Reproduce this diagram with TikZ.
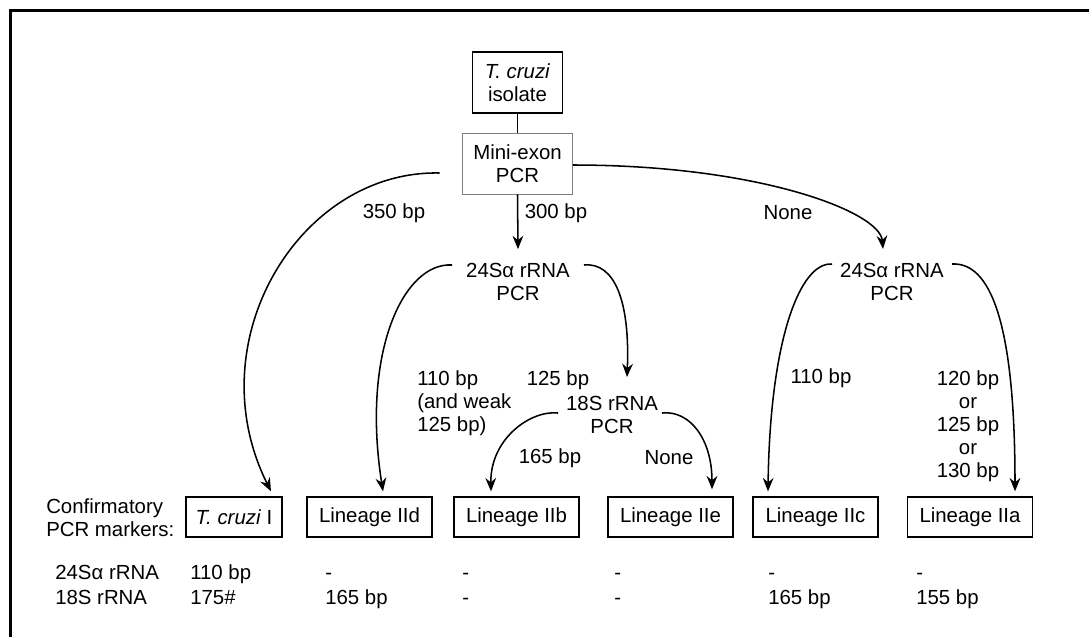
\documentclass[tikz,border=0pt]{standalone}
\usepackage{fontspec}
\setmainfont{Liberation Sans}
\usetikzlibrary{arrows.meta}
\begin{document}
\begin{tikzpicture}[x=0.75pt,y=-0.75pt,
  every node/.style={font=\fontsize{15.3}{17.25}\selectfont, inner sep=0pt, align=center},
  conn/.style={line width=1.15pt, -{Stealth[length=10pt,width=8pt]}},
  bbox/.style={draw, line width=1pt, minimum height=30pt, minimum width=93.75pt},
  val/.style={anchor=base west}]
\useasboundingbox (0,0) rectangle (1089,637);
\draw[line width=1.8pt] (10.5,637) -- (10.5,10.5) -- (1089,10.5);

% top boxes
\node[draw, line width=1.1pt, minimum width=67.5pt, minimum height=45.75pt] (iso) at (517.5,82.5) {\textit{T. cruzi}\\isolate};
\node[draw=gray, line width=0.6pt, minimum width=82.5pt, minimum height=45.75pt] (mini) at (517.5,163.5) {Mini-exon\\PCR};
\draw[line width=1pt] (iso) -- (mini);

% PCR nodes
\node (p24a) at (518,281.5) {24Sα rRNA\\PCR};
\node (p24b) at (892,281.5) {24Sα rRNA\\PCR};
\node (p18) at (612,415) {18S rRNA\\PCR};

% labels
\node (l350) at (394,213) {350 bp};
\node (l300) at (556,213) {300 bp};
\node (lnone1) at (788,213) {None};
\node[anchor=west, align=left] (l110a) at (417,403) {110 bp\\(and weak\\125 bp)};
\node (l125) at (558,380) {125 bp};
\node (l165) at (550,458) {165 bp};
\node (lnone2) at (669,458) {None};
\node (l110b) at (821,378) {110 bp};
\node (lor) at (968,426) {120 bp\\or\\125 bp\\or\\130 bp};

% bottom boxes
\node[anchor=west, align=left] (conf) at (46,518) {Confirmatory\\PCR markers:};
\node[bbox, minimum width=72pt] (tci) at (234,517) {\textit{T. cruzi} I};
\node[bbox] (iid) at (369.5,517) {Lineage IId};
\node[bbox] (iib) at (516.5,517) {Lineage IIb};
\node[bbox] (iie) at (670.5,517) {Lineage IIe};
\node[bbox] (iic) at (815.5,517) {Lineage IIc};
\node[bbox] (iia) at (970,517) {Lineage IIa};

% table rows
\node[val] (r24) at (55,579) {24Sα rRNA};
\node[val] (r18) at (55,604) {18S rRNA};
\node[val] (a1) at (190,579) {110 bp};
\node[val] (a2) at (325,579) {-};
\node[val] (a3) at (462,579) {-};
\node[val] (a4) at (614,579) {-};
\node[val] (a5) at (768,579) {-};
\node[val] (a6) at (916,579) {-};
\node[val] (b1) at (190,604) {175\#};
\node[val] (b2) at (325,604) {165 bp};
\node[val] (b3) at (462,604) {-};
\node[val] (b4) at (614,604) {-};
\node[val] (b5) at (768,604) {165 bp};
\node[val] (b6) at (916,604) {155 bp};

% connectors
\draw[conn] ([shift={(-78,9.5)}]mini.center) .. controls +(-140,-3) and +(-75,-150) .. ([shift={(37,-5)}]tci.north);
\draw[conn] (mini.south) -- ([yshift=10pt]p24a.north);
\draw[conn] ([shift={(0,1.5)}]mini.east) .. controls +(187,0) and +(-3,-37) .. ([shift={(-9,-13.5)}]p24b.north);
\draw[conn] ([shift={(-66,-16.5)}]p24a.center) .. controls +(-48,-3) and +(-22,-140) .. ([shift={(13.5,-5)}]iid.north);
\draw[conn] ([shift={(66,-16.5)}]p24a.center) .. controls +(31,-3) and +(3,-75) .. ([shift={(15,-19)}]p18.north);
\draw[conn] ([shift={(-54,-2)}]p18.center) .. controls +(-28,-3) and +(-1,-52) .. ([shift={(-25.5,-5)}]iib.north);
\draw[conn] ([shift={(50,-2)}]p18.center) .. controls +(28,-3) and +(0,-50) .. ([shift={(41.5,-7)}]iie.north);
\draw[conn] ([shift={(-60,-17.5)}]p24b.center) .. controls +(-32,-2) and +(2,-152) .. ([shift={(-47.5,-5)}]iic.north);
\draw[conn] ([shift={(60,-17.5)}]p24b.center) .. controls +(38,-2) and +(0,-170) .. ([shift={(45,-5)}]iia.north);
\end{tikzpicture}
\end{document}
